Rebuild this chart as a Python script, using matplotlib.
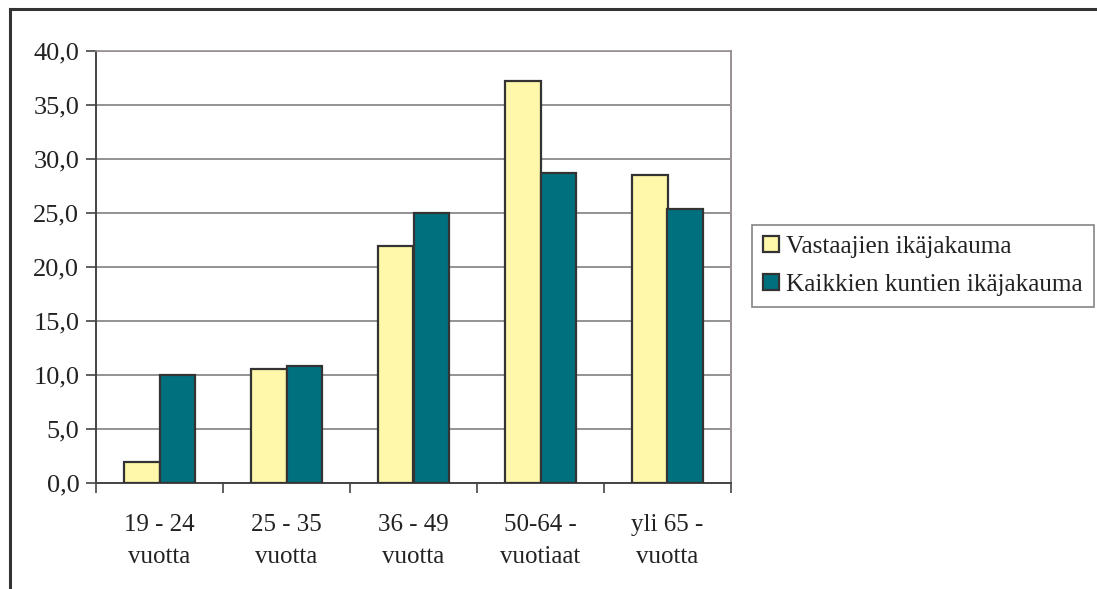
import matplotlib
matplotlib.use("Agg")
import matplotlib.pyplot as plt
from matplotlib.lines import Line2D
from matplotlib.ticker import FuncFormatter, FixedLocator
import numpy as np

categories = ["19 - 24\nvuotta", "25 - 35\nvuotta", "36 - 49\nvuotta",
              "50-64 -\nvuotiaat", "yli 65 -\nvuotta"]
vastaajat = [1.9, 10.6, 21.9, 37.2, 28.5]
kaikki_kunnat = [10.0, 10.8, 25.0, 28.7, 25.4]
series_names = ["Vastaajien ikäjakauma", "Kaikkien kuntien ikäjakauma"]
y_ticks = [0, 5, 10, 15, 20, 25, 30, 35, 40]

plt.rcParams["font.family"] = ["Liberation Serif", "DejaVu Serif"]

W, H = 1097, 589
fig = plt.figure(figsize=(W / 100, H / 100), dpi=100)
ax = fig.add_axes([96 / W, 1 - 483 / H, (731 - 96) / W, (483 - 51) / H])

x = np.arange(len(categories))
bw = 0.28
edge = "#333333"
ax.bar(x - bw / 2, vastaajat, width=bw, color="#FFF7AA", edgecolor=edge,
       linewidth=1.6, label=series_names[0], zorder=3)
ax.bar(x + bw / 2, kaikki_kunnat, width=bw, color="#00707F", edgecolor=edge,
       linewidth=1.6, label=series_names[1], zorder=3)

ax.set_xlim(-0.5, len(categories) - 0.5)
ax.set_ylim(0, 40)

ax.yaxis.set_major_locator(FixedLocator(y_ticks))
ax.yaxis.set_major_formatter(FuncFormatter(lambda v, p: f"{v:.1f}".replace(".", ",")))
ax.grid(axis="y", color="#808080", linewidth=1.2, zorder=0)

ax.xaxis.set_major_locator(FixedLocator(np.arange(-0.5, len(categories), 1.0)))
ax.xaxis.set_major_formatter(FuncFormatter(lambda v, p: ""))
ax.set_xticks(x, minor=True)
ax.set_xticklabels(categories, minor=True, fontsize=18, color="#222222",
                   linespacing=1.6)
ax.tick_params(axis="x", which="minor", length=0, pad=22)
ax.tick_params(axis="x", which="major", length=7, width=1.2, color="#444444",
               direction="out")
ax.tick_params(axis="y", length=7, width=1.2, color="#444444", labelsize=19,
               labelcolor="#222222", pad=5)

for s in ["left", "bottom"]:
    ax.spines[s].set_color("#444444")
    ax.spines[s].set_linewidth(1.4)
ax.spines["top"].set_color("#9a8f8f")
ax.spines["right"].set_color("#9a8f8f")
ax.spines["top"].set_linewidth(1.2)
ax.spines["right"].set_linewidth(1.4)

leg = fig.legend(loc="upper left", bbox_to_anchor=(752 / W, 1 - 225 / H),
                 fontsize=18.2, frameon=True, fancybox=False, handlelength=0.6,
                 handleheight=0.6, handletextpad=0.3, borderpad=0.45,
                 labelspacing=0.6, borderaxespad=0)
leg.get_frame().set_edgecolor("#666666")
leg.get_frame().set_linewidth(1.2)
for t in leg.get_texts():
    t.set_color("#222222")

# chart area border (top and left edges)
fig.add_artist(Line2D([10 / W, 1.0], [1 - 9 / H, 1 - 9 / H], color="#333333",
                      linewidth=2.2, transform=fig.transFigure))
fig.add_artist(Line2D([10 / W, 10 / W], [1 - 9 / H, 0.0], color="#333333",
                      linewidth=2.2, transform=fig.transFigure))

fig.savefig("out.png", dpi=100)
